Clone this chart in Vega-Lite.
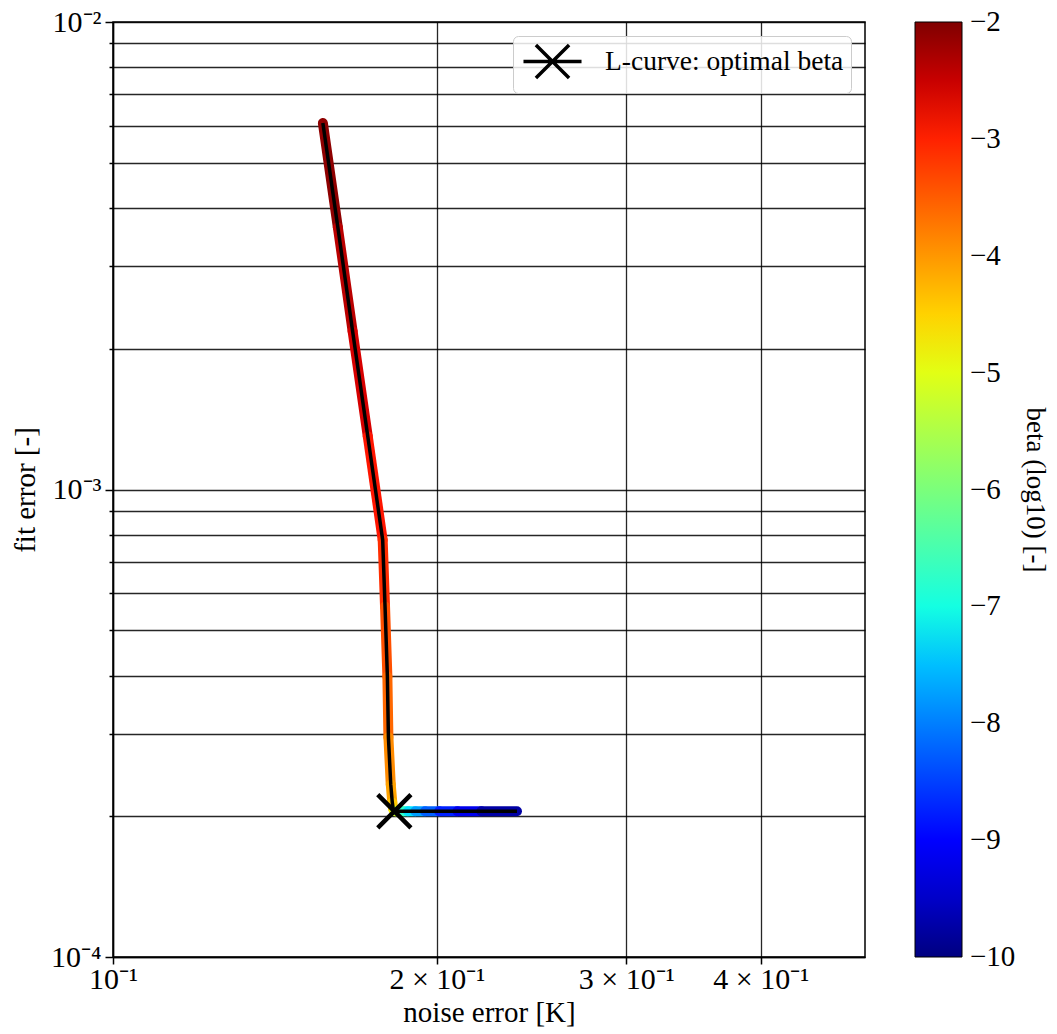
{
  "$schema": "https://vega.github.io/schema/vega-lite/v6.json",
  "autosize": "none",
  "padding": {"left": 113, "top": 22, "right": 192, "bottom": 77},
  "width": 752,
  "height": 935,
  "background": "white",
  "config": {
    "view": {"stroke": "black", "strokeWidth": 1.5},
    "font": "Liberation Serif",
    "axis": {
      "labelFont": "Liberation Serif", "titleFont": "Liberation Serif",
      "labelFontSize": 30, "titleFontSize": 29, "titleFontWeight": "normal",
      "labelColor": "black", "titleColor": "black",
      "domainColor": "black", "domainWidth": 1.5,
      "tickColor": "black", "tickWidth": 1.5,
      "gridColor": "black", "gridWidth": 1.3, "gridOpacity": 0.85
    },
    "legend": {
      "labelFont": "Liberation Serif", "titleFont": "Liberation Serif",
      "labelColor": "black", "titleColor": "black", "titleFontWeight": "normal"
    }
  },
  "datasets": {
    "pts": [
      {"beta": -2.0, "noise": 0.1567, "fit": 0.00608},
      {"beta": -2.25, "noise": 0.1618, "fit": 0.00364},
      {"beta": -2.5, "noise": 0.1670, "fit": 0.00218},
      {"beta": -2.75, "noise": 0.1725, "fit": 0.00130},
      {"beta": -3.0, "noise": 0.1781, "fit": 0.00078},
      {"beta": -3.25, "noise": 0.1790, "fit": 0.000562},
      {"beta": -3.5, "noise": 0.1799, "fit": 0.000398},
      {"beta": -3.75, "noise": 0.1803, "fit": 0.000295},
      {"beta": -4.0, "noise": 0.1812, "fit": 0.000234},
      {"beta": -4.25, "noise": 0.1818, "fit": 0.000214},
      {"beta": -4.5, "noise": 0.1822, "fit": 0.000207},
      {"beta": -4.75, "noise": 0.1826, "fit": 0.0002055},
      {"beta": -5.0, "noise": 0.1831, "fit": 0.000205},
      {"beta": -5.5, "noise": 0.1840, "fit": 0.000205},
      {"beta": -6.0, "noise": 0.1850, "fit": 0.000205},
      {"beta": -6.5, "noise": 0.1862, "fit": 0.000205},
      {"beta": -7.0, "noise": 0.1880, "fit": 0.000205},
      {"beta": -7.5, "noise": 0.1910, "fit": 0.000205},
      {"beta": -8.0, "noise": 0.1950, "fit": 0.000205},
      {"beta": -8.5, "noise": 0.2010, "fit": 0.000205},
      {"beta": -9.0, "noise": 0.2090, "fit": 0.000205},
      {"beta": -9.5, "noise": 0.2200, "fit": 0.000205},
      {"beta": -10.0, "noise": 0.2374, "fit": 0.000205}
    ],
    "segs": [
      {"beta": -2.1, "noise": 0.1567, "fit": 0.00608, "noise2": 0.1618, "fit2": 0.00364},
      {"beta": -2.4, "noise": 0.1618, "fit": 0.00364, "noise2": 0.1670, "fit2": 0.00218},
      {"beta": -2.6, "noise": 0.1670, "fit": 0.00218, "noise2": 0.1725, "fit2": 0.00130},
      {"beta": -2.9, "noise": 0.1725, "fit": 0.00130, "noise2": 0.1781, "fit2": 0.00078},
      {"beta": -3.1, "noise": 0.1781, "fit": 0.00078, "noise2": 0.1790, "fit2": 0.000562},
      {"beta": -3.4, "noise": 0.1790, "fit": 0.000562, "noise2": 0.1799, "fit2": 0.000398},
      {"beta": -3.6, "noise": 0.1799, "fit": 0.000398, "noise2": 0.1803, "fit2": 0.000295},
      {"beta": -3.9, "noise": 0.1803, "fit": 0.000295, "noise2": 0.1812, "fit2": 0.000234},
      {"beta": -4.1, "noise": 0.1812, "fit": 0.000234, "noise2": 0.1818, "fit2": 0.000214},
      {"beta": -4.4, "noise": 0.1818, "fit": 0.000214, "noise2": 0.1822, "fit2": 0.000207},
      {"beta": -4.6, "noise": 0.1822, "fit": 0.000207, "noise2": 0.1826, "fit2": 0.0002055},
      {"beta": -4.9, "noise": 0.1826, "fit": 0.0002055, "noise2": 0.1831, "fit2": 0.000205},
      {"beta": -5.25, "noise": 0.1831, "fit": 0.000205, "noise2": 0.1840, "fit2": 0.000205},
      {"beta": -5.75, "noise": 0.1840, "fit": 0.000205, "noise2": 0.1850, "fit2": 0.000205},
      {"beta": -6.25, "noise": 0.1850, "fit": 0.000205, "noise2": 0.1862, "fit2": 0.000205},
      {"beta": -6.75, "noise": 0.1862, "fit": 0.000205, "noise2": 0.1880, "fit2": 0.000205},
      {"beta": -7.25, "noise": 0.1880, "fit": 0.000205, "noise2": 0.1910, "fit2": 0.000205},
      {"beta": -7.75, "noise": 0.1910, "fit": 0.000205, "noise2": 0.1950, "fit2": 0.000205},
      {"beta": -8.25, "noise": 0.1950, "fit": 0.000205, "noise2": 0.2010, "fit2": 0.000205},
      {"beta": -8.75, "noise": 0.2010, "fit": 0.000205, "noise2": 0.2090, "fit2": 0.000205},
      {"beta": -9.25, "noise": 0.2090, "fit": 0.000205, "noise2": 0.2200, "fit2": 0.000205},
      {"beta": -9.75, "noise": 0.2200, "fit": 0.000205, "noise2": 0.2374, "fit2": 0.000205}
    ],
    "opt": [
      {"noise": 0.1826, "fit": 0.000205, "label": "L-curve: optimal beta"}
    ]
  },
  "layer": [
    {
      "data": {"name": "segs"},
      "mark": {"type": "rule", "strokeWidth": 10, "strokeCap": "round", "clip": true},
      "encoding": {
        "x": {
          "field": "noise", "type": "quantitative",
          "scale": {"type": "log", "domain": [0.1, 0.5], "nice": false},
          "axis": {
            "title": "noise error [K]",
            "values": [0.1, 0.2, 0.3, 0.4],
            "labelExpr": "datum.value < 0.15 ? '10⁻¹' : datum.value < 0.25 ? '2 × 10⁻¹' : datum.value < 0.35 ? '3 × 10⁻¹' : '4 × 10⁻¹'",
            "tickSize": 7, "labelPadding": 0, "titlePadding": 4, "labelFlush": false
          }
        },
        "y": {
          "field": "fit", "type": "quantitative",
          "scale": {"type": "log", "domain": [0.0001, 0.01], "nice": false},
          "axis": {
            "title": "fit error [-]",
            "values": [0.0001, 0.0002, 0.0003, 0.0004, 0.0005, 0.0006, 0.0007, 0.0008, 0.0009, 0.001, 0.002, 0.003, 0.004, 0.005, 0.006, 0.007, 0.008, 0.009, 0.01],
            "labelExpr": "datum.value < 0.00015 ? '10⁻⁴' : (datum.value > 0.0009 && datum.value < 0.0015) ? '10⁻³' : datum.value > 0.0095 ? '10⁻²' : ''",
            "tickSize": {"condition": {"test": "datum.value < 0.00015 || (datum.value > 0.0009 && datum.value < 0.0015) || datum.value > 0.0095", "value": 8}, "value": 4},
            "labelPadding": 4, "titlePadding": 10, "labelFlush": false, "labelOverlap": false
          }
        },
        "x2": {"field": "noise2"},
        "y2": {"field": "fit2"},
        "color": {
          "field": "beta", "type": "quantitative",
          "scale": {
            "domain": [-10, -9.12, -9, -7.28, -7.2, -7, -6, -4.88, -4.8, -4.72, -2.88, -2.72, -2],
            "range": ["#000080", "#0000ff", "#0000ff", "#00dbff", "#00e5ff", "#14ffe2", "#7bff7b", "#eeff08", "#f7f500", "#ffec00", "#ff1300", "#e80000", "#800000"],
            "interpolate": "rgb"
          },
          "legend": {
            "type": "gradient", "direction": "vertical", "orient": "right",
            "offset": 50, "padding": 0,
            "gradientLength": 935, "gradientThickness": 47,
            "gradientStrokeColor": "black", "gradientStrokeWidth": 1,
            "values": [-10, -9, -8, -7, -6, -5, -4, -3, -2],
            "format": "d",
            "labelFontSize": 29, "labelOffset": 8, "labelOverlap": false,
            "labelBaseline": "middle", "labelLimit": 0,
            "title": "beta (log10) [-]", "titleOrient": "right", "titleAngle": 90,
            "titleFontSize": 27, "titlePadding": 12, "titleAnchor": "middle",
            "titleBaseline": "alphabetic", "titleLimit": 0,
            "encode": {"labels": {"update": {"baseline": {"value": "middle"}}}}
          }
        }
      }
    },
    {
      "data": {"name": "pts"},
      "mark": {"type": "line", "color": "black", "strokeWidth": 3.5, "clip": true},
      "encoding": {
        "x": {"field": "noise", "type": "quantitative"},
        "y": {"field": "fit", "type": "quantitative"},
        "order": {"field": "beta", "sort": "descending"}
      }
    },
    {
      "data": {"name": "opt"},
      "mark": {"type": "point", "shape": "M-1,-1L1,1M-1,1L1,-1", "size": 1100, "strokeWidth": 4.5, "color": "black", "filled": false},
      "encoding": {
        "x": {"field": "noise", "type": "quantitative"},
        "y": {"field": "fit", "type": "quantitative"},
        "opacity": {
          "field": "label", "type": "nominal",
          "scale": {"range": [1]},
          "legend": {
            "title": null, "orient": "top-right", "offset": 14,
            "symbolType": "M-1,-1L1,1M-1,1L1,-1M-1.75,0L1.75,0",
            "symbolSize": 1100, "symbolStrokeWidth": 3.5, "symbolStrokeColor": "black",
            "symbolFillColor": "transparent", "symbolOffset": 14,
            "labelFontSize": 27.5, "labelOffset": 34, "labelLimit": 0,
            "padding": 7, "fillColor": "rgba(255,255,255,0.85)",
            "strokeColor": "#cccccc", "cornerRadius": 5
          }
        }
      }
    }
  ]
}
